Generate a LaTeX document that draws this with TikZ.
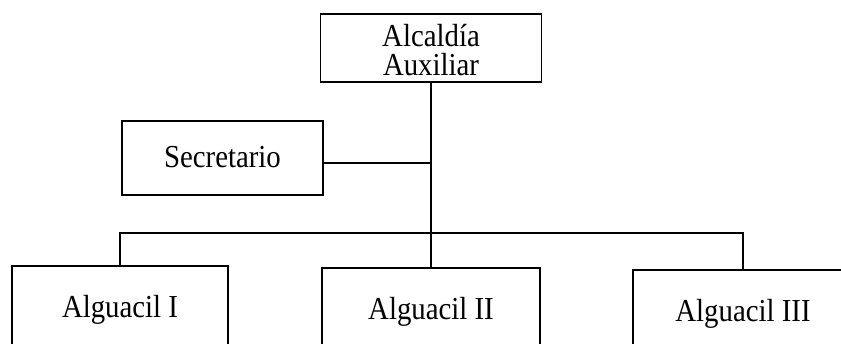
\documentclass[tikz,border=0pt]{standalone}
\usepackage{fontspec}
\setmainfont[FakeStretch=0.9]{Liberation Serif}
\begin{document}
\begin{tikzpicture}[x=0.5pt, y=-0.5pt, line width=0.7pt,
		caixa/.style={draw, inner sep=0pt, font=\fontsize{16}{14.5}\selectfont},
		cargo/.style={caixa, text height=25.5pt, text depth=14.5pt}]
	% Área da figura (medidas em pixels)
	\useasboundingbox (0,0) rectangle (841,343);
	\clip (0,0) rectangle (841,343);
	\def\yBarra{233}
	\def\ySec{163}
	% Alcaldía (topo)
	\node[caixa, align=center, minimum width=110.5pt, text height=30.5pt, text depth=3.5pt] (alcaldia) at (431,48) {Alcaldía\\Auxiliar};
	% Secretario (à esquerda)
	\node[caixa, minimum width=100.5pt, text height=23pt, text depth=14pt] (secretario) at (222.5,158) {Secretario};
	% Alguaciles (embaixo)
	\node[cargo, minimum width=108pt] (alg1) at (120,306) {Alguacil I};
	\node[cargo, minimum width=109pt] (alg2) at (431,308) {Alguacil II};
	\node[cargo, minimum width=110pt] (alg3) at (743,310) {Alguacil III};
	% Ligações
	\coordinate (juncaoSec) at (431,\ySec);
	\coordinate (barra) at (431,\yBarra);
	\draw (alcaldia) -- (alg2);
	\draw (secretario.east |- juncaoSec) -- (juncaoSec);
	\draw (alg1.north) |- (barra) -| (alg3.north);
\end{tikzpicture}
\end{document}
